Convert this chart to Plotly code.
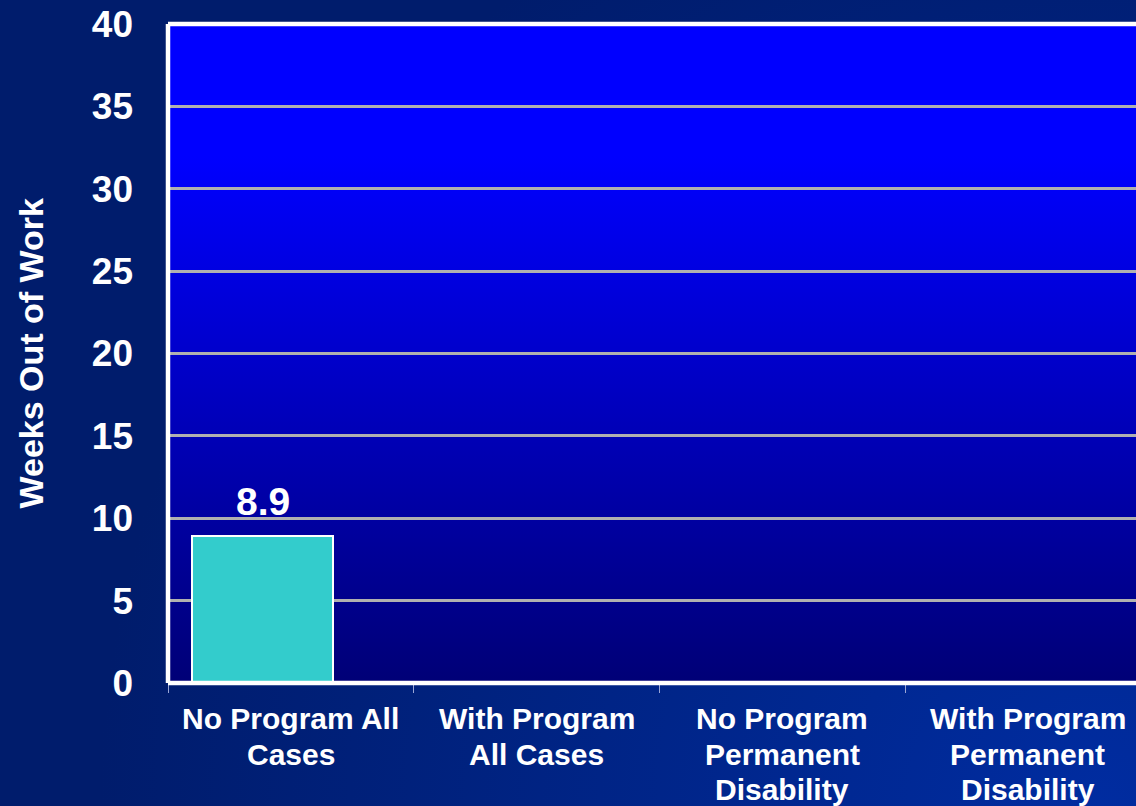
import base64
import plotly.graph_objects as go

# ---- data -------------------------------------------------------------
categories = [
    "No Program All<br>Cases",
    "With Program<br>All Cases",
    "No Program<br>Permanent<br>Disability",
    "With Program<br>Permanent<br>Disability",
]
weeks = [8.9, None, None, None]
y_ticks = [0, 5, 10, 15, 20, 25, 30, 35, 40]
y_title = "Weeks Out of Work"

# ---- page geometry ----------------------------------------------------
W, H = 1136, 806
ML, MR, MT, MB = 168, 0, 24, 123
PW, PH = W - ML - MR, H - MT - MB
CAT_PX = 245.7                      # pixel width of one category slot
BAR_WIDTH, BAR_OFFSET = 0.574, -0.4015

FONT = "Liberation Sans, Arial, sans-serif"
WHITE = "#ffffff"


def svg_uri(svg):
    return "data:image/svg+xml;base64," + base64.b64encode(svg.encode()).decode()


# slide background: dark navy brightening toward the lower right
page_svg = f"""<svg xmlns='http://www.w3.org/2000/svg' width='{W}' height='{H}'
 viewBox='0 0 {W} {H}' preserveAspectRatio='none'>
<defs><radialGradient id='g' gradientUnits='userSpaceOnUse' cx='1100' cy='{H}' r='1000'>
<stop offset='0' stop-color='rgb(0,44,160)'/>
<stop offset='1' stop-color='rgb(0,28,108)'/>
</radialGradient></defs>
<rect width='{W}' height='{H}' fill='url(#g)'/></svg>"""

# plot area: bright blue fading to navy at the baseline
plot_svg = f"""<svg xmlns='http://www.w3.org/2000/svg' width='{PW}' height='{PH}'
 viewBox='0 0 {PW} {PH}' preserveAspectRatio='none'>
<defs><linearGradient id='p' x1='0' y1='0' x2='0' y2='1'>
<stop offset='0' stop-color='#0000ff'/>
<stop offset='0.2' stop-color='#0000ff'/>
<stop offset='1' stop-color='#000076'/>
</linearGradient></defs>
<rect width='{PW}' height='{PH}' fill='url(#p)'/></svg>"""

fig = go.Figure()

fig.add_trace(go.Bar(
    x=categories,
    y=weeks,
    width=BAR_WIDTH,
    offset=BAR_OFFSET,
    marker=dict(color="#33cccc", line=dict(color=WHITE, width=2)),
    hoverinfo="skip",
))

annotations = []

# value label above the bar
for i, v in enumerate(weeks):
    if v is None:
        continue
    annotations.append(dict(
        x=i + BAR_OFFSET + BAR_WIDTH / 2, xref="x",
        y=v, yref="y", yanchor="bottom", yshift=11,
        text=f"{v}", showarrow=False,
        font=dict(family=FONT, size=39, color=WHITE, weight="bold"),
    ))

# category labels, one line at a time for tight line spacing
for i, cat in enumerate(categories):
    for j, line in enumerate(cat.split("<br>")):
        annotations.append(dict(
            x=i, xref="x", xanchor="center",
            y=0, yref="paper", yanchor="top", yshift=-(17 + j * 35.7),
            text=line, showarrow=False,
            font=dict(family=FONT, size=30, color=WHITE, weight="bold"),
        ))

# vertical axis title
annotations.append(dict(
    x=(30 - ML) / PW, xref="paper", xanchor="center",
    y=0.5, yref="paper", yanchor="middle",
    text=y_title, textangle=-90, showarrow=False,
    font=dict(family=FONT, size=34, color=WHITE, weight="bold"),
))

# white frame on the left, top and baseline
frame = dict(type="line", xref="paper", yref="paper",
             line=dict(color=WHITE, width=4.5), layer="above")
shapes = [
    dict(frame, x0=0, x1=0, y0=0, y1=1),
    dict(frame, x0=0, x1=1, y0=1, y1=1),
    dict(frame, x0=0, x1=1, y0=0, y1=0),
]

images = [
    dict(source=svg_uri(page_svg), xref="paper", yref="paper",
         x=-ML / PW, y=1 + MT / PH, sizex=W / PW, sizey=H / PH,
         xanchor="left", yanchor="top", sizing="stretch", layer="below"),
    dict(source=svg_uri(plot_svg), xref="paper", yref="paper",
         x=0, y=1, sizex=1, sizey=1,
         xanchor="left", yanchor="top", sizing="stretch", layer="below"),
]

fig.update_layout(
    width=W, height=H,
    margin=dict(l=ML, r=MR, t=MT, b=MB, pad=0),
    paper_bgcolor="rgb(0,28,108)",
    plot_bgcolor="rgba(0,0,0,0)",
    showlegend=False,
    bargap=0,
    annotations=annotations,
    shapes=shapes,
    images=images,
    xaxis=dict(
        type="category",
        range=[-0.5, -0.5 + PW / CAT_PX],
        showticklabels=False,
        showgrid=False, zeroline=False, showline=False,
        ticks="outside", tickson="boundaries", ticklen=9,
        tickwidth=1, tickcolor="#9aa6d6",
        fixedrange=True,
    ),
    yaxis=dict(
        range=[0, 40],
        tickvals=y_ticks,
        ticktext=[str(t) for t in y_ticks],
        tickfont=dict(family=FONT, size=37, color=WHITE, weight="bold"),
        ticks="", ticklabelstandoff=34,
        showgrid=True, gridcolor="#b0b0b0", gridwidth=2.5,
        zeroline=False, showline=False,
        fixedrange=True,
    ),
)

fig.write_html("out.html", config={"displayModeBar": False})
